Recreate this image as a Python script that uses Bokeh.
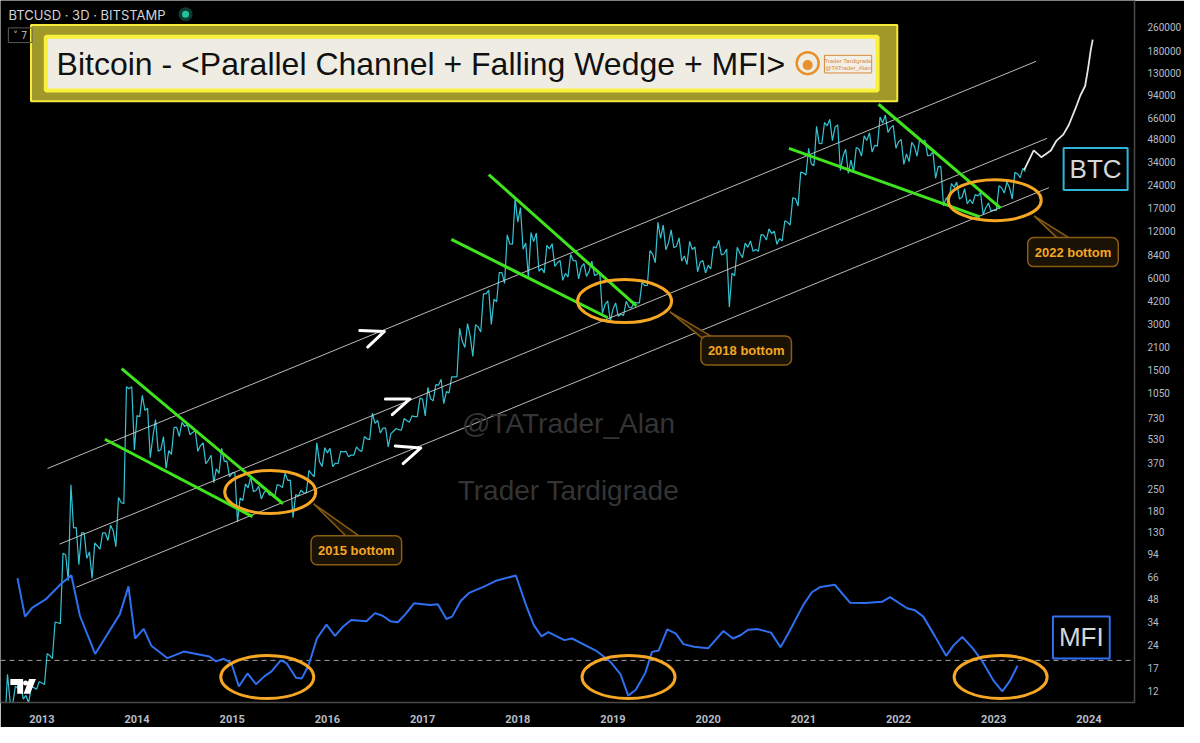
import math
from bokeh.plotting import figure
from bokeh.models import Range1d, FixedTicker, PrintfTickFormatter, Label, LinearScale
from bokeh.embed import file_html
from bokeh.resources import INLINE

# ---------------- data ----------------
FIRST_MONTH_YEAR = 2012 + 7 / 12.0   # August 2012, monthly 3D-candle extremes
PRICE_OPEN_FIRST = 9.0
PRICE_HIGH = [15.4, 12.9, 12.9, 12.8, 13.8,
              21.0, 33.8, 95.0, 266, 140, 129, 111, 129, 145, 220, 1163, 1163,
              1020, 840, 710, 550, 630, 680, 660, 600, 500, 415, 460, 380,
              320, 270, 300, 260, 246, 267, 317, 285, 245, 330, 500, 465,
              460, 440, 440, 470, 550, 780, 700, 625, 620, 720, 750, 980,
              1150, 1200, 1300, 1350, 2800, 3000, 2950, 4700, 4970, 6470, 11400, 19666,
              17200, 11800, 11700, 9750, 9990, 7760, 8500, 7760, 7410, 7680, 6540, 4230,
              4100, 4200, 4150, 5600, 9000, 13800, 13200, 12300, 10900, 10350, 9500, 7750,
              9580, 10500, 9200, 9450, 10080, 10400, 11450, 12470, 12050, 14100, 19900, 29300,
              41950, 58300, 61800, 64900, 59600, 41300, 42400, 50500, 52900, 67000, 69000, 59000,
              47900, 45800, 48200, 47400, 39800, 31900, 24700, 25200, 22800, 20900, 21500, 18400,
              23900, 25250, 29200, 31000]
PRICE_LOW = [7.1, 9.9, 10.6, 10.0, 12.3,
             13.2, 19.5, 33.0, 63, 80, 88, 65, 101, 115, 105, 200, 450,
             740, 400, 440, 340, 420, 550, 565, 440, 365, 275, 315, 300,
             152, 210, 240, 215, 228, 219, 255, 162, 225, 235, 300, 350,
             350, 365, 405, 415, 440, 525, 580, 470, 595, 605, 680, 742,
             750, 940, 900, 1060, 1350, 2100, 1830, 2650, 2970, 4160, 5500, 9900,
             9200, 6000, 6600, 6440, 7100, 5750, 6070, 5880, 6100, 6200, 3500, 3120,
             3350, 3400, 3800, 4100, 5330, 7500, 9100, 9400, 7700, 7300, 6550, 6430,
             6850, 8450, 3850, 6150, 8100, 8900, 8900, 10550, 9900, 10400, 13200, 17600,
             28100, 32300, 45000, 47000, 30000, 28800, 29300, 37300, 39600, 43300, 53300, 42000,
             32900, 34300, 37200, 37600, 26700, 17600, 18800, 19600, 18200, 18200, 15500, 16300,
             16500, 21400, 19600, 27000]
PRICE_CLOSE = [10.2, 12.4, 11.2, 12.6, 13.5,
               20.4, 33.4, 93, 139, 129, 97, 106, 129, 133, 204, 1128, 754,
               815, 550, 450, 445, 630, 640, 585, 480, 386, 338, 378, 318,
               218, 254, 244, 236, 230, 263, 284, 230, 236, 314, 377, 430,
               369, 437, 416, 448, 530, 670, 624, 574, 609, 700, 742, 963,
               970, 1190, 1080, 1348, 2300, 2480, 2860, 4700, 4340, 6470, 9950, 13800,
               10100, 10300, 6900, 9240, 7500, 6390, 7730, 7030, 6630, 6300, 4000, 3740,
               3460, 3850, 4100, 5320, 8550, 10800, 10100, 9600, 8300, 9150, 7550, 7200,
               9350, 8550, 6420, 8650, 9450, 9140, 11350, 11650, 10780, 13800, 19700, 28950,
               33100, 45200, 58800, 57700, 37300, 35040, 41500, 47100, 43800, 61300, 57000, 46200,
               38500, 43200, 45500, 37700, 31800, 19900, 23300, 20000, 19400, 20500, 17150, 16550,
               23100, 23150, 28500, 29500]

PROJ_YEARS = [2023.32, 2023.42, 2023.50, 2023.60, 2023.66, 2023.73, 2023.79,
              2023.86, 2023.91, 2023.96, 2023.99, 2024.02, 2024.04]
PROJ_PRICES = [30300, 40600, 36700, 40600, 47100, 51500, 59700,
               76600, 92700, 107000, 138000, 185000, 215000]

CHANNEL_YEARS = [[2013.06, 2023.445], [2013.186, 2023.56], [2013.362, 2023.58]]
CHANNEL_PRICES = [[340, 155000], [109, 48700], [57, 23200]]

WEDGE_YEARS = [[2013.838, 2015.534], [2013.662, 2015.213],
               [2017.695, 2019.246], [2017.302, 2018.946],
               [2021.790, 2023.072], [2020.849, 2022.855]]
WEDGE_PRICES = [[1528, 200], [528, 165],
                [28200, 3920], [10660, 3280],
                [81300, 17060], [41900, 14950]]

MFI_YEARS = [2012.744, 2012.823, 2012.90, 2013.04, 2013.20, 2013.31, 2013.40, 2013.56, 2013.82, 2013.91,
             2013.98, 2014.07, 2014.15, 2014.32, 2014.49, 2014.76, 2014.83, 2014.91, 2014.99, 2015.07,
             2015.16, 2015.25, 2015.34, 2015.41, 2015.51, 2015.57, 2015.67, 2015.73, 2015.80, 2015.89,
             2015.99, 2016.08, 2016.16, 2016.25, 2016.41, 2016.50, 2016.58, 2016.66, 2016.74, 2016.82,
             2016.91, 2017.08, 2017.16, 2017.25, 2017.31, 2017.40, 2017.49, 2017.65, 2017.77, 2017.98,
             2018.09, 2018.17, 2018.25, 2018.32, 2018.49, 2018.57, 2018.82, 2018.97, 2019.08, 2019.16,
             2019.24, 2019.34, 2019.41, 2019.48, 2019.57, 2019.66, 2019.74, 2019.85, 2020.00, 2020.16,
             2020.26, 2020.34, 2020.42, 2020.52, 2020.66, 2020.76, 2020.84, 2021.00, 2021.09, 2021.18,
             2021.33, 2021.49, 2021.65, 2021.83, 2021.91, 2022.09, 2022.17, 2022.26, 2022.38, 2022.50,
             2022.58, 2022.67, 2022.78, 2022.87, 2023.00, 2023.09, 2023.17, 2023.25]
MFI_VALUES = [86, 59.8, 66, 71.5, 82, 88, 60.4, 34.4, 61.5, 80.4,
              44.9, 51.5, 40, 31.5, 36, 32.7, 29.3, 31.1, 28.2, 12.2,
              21.1, 13.8, 19.3, 22.4, 30, 28.2, 18.2, 17.6, 26.4, 44.9,
              54.4, 46.7, 52.7, 57.5, 56.7, 62.2, 60.4, 56.7, 56, 61.5,
              68.9, 67.8, 68.2, 58.2, 59.8, 70.5, 76, 80.4, 84.2, 87.8,
              67, 53.8, 46.4, 49.3, 43.8, 44.9, 36.7, 29.3, 20.4, 6,
              10, 21.5, 35.8, 36.7, 51.1, 48.2, 41.1, 39.3, 38.2, 50,
              44.9, 47.1, 50.9, 51.3, 48.9, 38.9, 48.2, 67.8, 76.4, 80,
              81.5, 69.3, 69.1, 70, 73.1, 65.5, 64.2, 59.8, 46.7, 33.1,
              40.4, 46, 38.2, 30.4, 16, 8.9, 16, 26.4]
MFI_LEVEL = 30

YEAR_TICKS = list(range(2013, 2025))
PRICE_TICKS = [12, 17, 24, 34, 48, 66, 94, 130, 180, 250, 370, 530, 730, 1050, 1500, 2100,
               3000, 4200, 6000, 8400, 12000, 17000, 24000, 34000, 48000, 66000, 94000,
               130000, 180000, 260000]

BOTTOM_LABELS = ["2015 bottom", "2018 bottom", "2022 bottom"]
TITLE = "Bitcoin - <Parallel Channel + Falling Wedge + MFI>"

# ---------------- layout helpers (reference pixel -> data units) ----------------
PX_YEAR0, YEAR0, PX_PER_YEAR = 42.0, 2013.0, 96.7
PY_REF, PRICE_REF, PX_PER_DECADE = 27.0, 260000.0, 156.4
MFI_DASH_PY, MFI_PX_PER_UNIT = 674.0, 1.5


def yr(px):
    return YEAR0 + (px - PX_YEAR0) / PX_PER_YEAR


def pr(py):
    return PRICE_REF * 10 ** (-(py - PY_REF) / PX_PER_DECADE)


def mf(py):
    return MFI_LEVEL + (MFI_DASH_PY - py) / MFI_PX_PER_UNIT


FRAME_L, FRAME_R, FRAME_T, FRAME_B = 0, 1152, 0, 717

BG = "#000000"
CYAN = "#35c3d3"
GREEN = "#3fe41e"
ORANGE = "#f5a623"
BLUE = "#2f6ff0"
YELLOW = "#f4ec38"
OLIVE = "#a1982a"
CREAM = "#efede3"

p = figure(width=1184, height=727, output_backend="svg", toolbar_location=None,
           x_range=Range1d(yr(FRAME_L), yr(FRAME_R)),
           y_range=Range1d(pr(FRAME_B), pr(FRAME_T)),
           y_axis_type="log", y_axis_location="right",
           min_border_left=0, min_border_top=0, min_border_right=47, min_border_bottom=25)
p.extra_y_ranges = {"mfi": Range1d(mf(FRAME_B), mf(FRAME_T))}
p.extra_y_scales = {"mfi": LinearScale()}
p.background_fill_color = BG
p.border_fill_color = BG
p.outline_line_color = None
p.xgrid.visible = False
p.ygrid.visible = False

# axes
xa = p.xaxis[0]
xa.ticker = FixedTicker(ticks=YEAR_TICKS)
xa.formatter = PrintfTickFormatter(format="%d")
ya = p.yaxis[0]
ya.ticker = FixedTicker(ticks=PRICE_TICKS)
ya.formatter = PrintfTickFormatter(format="%d")
for ax in (xa, ya):
    ax.axis_line_color = "#4a4a4a"
    ax.axis_line_width = 1.5
    ax.major_tick_line_color = None
    ax.minor_tick_line_color = None
    ax.major_label_text_color = "#b8bcc4"
    ax.major_label_text_font = "Roboto"
xa.major_label_text_font_size = "11px"
xa.major_label_text_font_style = "bold"
xa.major_label_standoff = 6
ya.major_label_text_font_size = "10px"
ya.major_label_standoff = 7

# ---------------- price path built from monthly extremes ----------------
path_x, path_y = [], []
prev = PRICE_OPEN_FIRST
for i, (h, l, c) in enumerate(zip(PRICE_HIGH, PRICE_LOW, PRICE_CLOSE)):
    t0 = FIRST_MONTH_YEAR + i / 12.0
    a, b = (l, h) if c >= prev else (h, l)
    path_x += [t0 + 1 / 36.0, t0 + 2 / 36.0, t0 + 3 / 36.0]
    path_y += [a, b, c]
    prev = c

p.line(path_x, path_y, line_color=CYAN, line_width=1.2)
p.line(PROJ_YEARS, PROJ_PRICES, line_color="#e6e6e6", line_width=1.8)

# channel + wedges
p.multi_line(CHANNEL_YEARS, CHANNEL_PRICES, line_color="#cfcfcf", line_width=1, line_alpha=0.9)
p.multi_line(WEDGE_YEARS, WEDGE_PRICES, line_color=GREEN, line_width=3)

# MFI
p.line([yr(FRAME_L), yr(FRAME_R)], [MFI_LEVEL, MFI_LEVEL], y_range_name="mfi",
       line_color="#a0a0a0", line_width=1, line_dash="5 4")
p.line(MFI_YEARS, MFI_VALUES, y_range_name="mfi", line_color=BLUE, line_width=2)

# ellipses (price and MFI)
p.ellipse(x=[yr(274), yr(634), yr(1010)], y=[pr(502), pr(307), pr(204)],
          width=[91, 94, 93], height=[43, 43, 41], width_units="screen", height_units="screen",
          fill_color=None, line_color=ORANGE, line_width=3)
p.ellipse(x=[yr(271), yr(638), yr(1016)], y=[mf(691)] * 3, y_range_name="mfi",
          width=93, height=43, width_units="screen", height_units="screen",
          fill_color=None, line_color=ORANGE, line_width=3)

# white arrows
arrows_px = [[(365, 337), (390, 338), (373, 354)],
             [(391, 407), (416, 407), (398, 423)],
             [(401, 455), (427, 457), (409, 473)]]
p.multi_line([[yr(a) for a, _ in arr] for arr in arrows_px],
             [[pr(b) for _, b in arr] for arr in arrows_px],
             line_color="white", line_width=3, line_cap="round", line_join="round")

# callouts
pointers = [[(318, 514), (352, 548), (366, 548)],
            [(680, 318), (712, 344), (724, 344)],
            [(1050, 220), (1075, 244), (1088, 244)]]
p.patches([[yr(a) for a, _ in t] for t in pointers], [[pr(b) for _, b in t] for t in pointers],
          fill_color="#1a1204", line_color="#8a5c14", line_width=1.5)
for text, (cx, cy) in zip(BOTTOM_LABELS, [(361.5, 561.5), (757.5, 357.5), (1089.5, 257)]):
    p.add_layout(Label(x=yr(cx), y=pr(cy), text=text, text_align="center", text_baseline="middle",
                       text_font="Liberation Sans", text_font_size="13px", text_font_style="bold",
                       text_color=ORANGE, background_fill_color="#1a1204",
                       border_line_color="#8a5c14", border_line_width=1.5,
                       padding=7, border_radius=6))

# BTC / MFI tags
p.add_layout(Label(x=yr(1112.5), y=pr(172), text="BTC", text_align="center", text_baseline="middle",
                   text_font="Liberation Sans", text_font_size="26px", text_color="#d6d6d6",
                   background_fill_color=BG, border_line_color="#2fb6d6", border_line_width=2,
                   padding=6))
p.add_layout(Label(x=yr(1098), y=pr(650.5), text="MFI", text_align="center", text_baseline="middle",
                   text_font="Liberation Sans", text_font_size="26px", text_color="#d6d6d6",
                   background_fill_color=BG, border_line_color=BLUE, border_line_width=2,
                   padding=6))

# watermarks
p.add_layout(Label(x=yr(577), y=pr(432), text="@TATrader_Alan", text_align="center",
                   text_baseline="middle", text_font="Liberation Sans", text_font_size="28px",
                   text_color="#343434"))
p.add_layout(Label(x=yr(577), y=pr(500), text="Trader Tardigrade", text_align="center",
                   text_baseline="middle", text_font="Liberation Sans", text_font_size="28px",
                   text_color="#343434"))

# title box
p.quad(left=[yr(31)], right=[yr(911)], bottom=[pr(103)], top=[pr(25)],
       fill_color=OLIVE, line_color=YELLOW, line_width=2)
p.quad(left=[yr(46)], right=[yr(891)], bottom=[pr(92)], top=[pr(37)],
       fill_color=CREAM, line_color="#f8f03a", line_width=4)
p.add_layout(Label(x=yr(57), y=pr(65), text=TITLE, text_align="left", text_baseline="middle",
                   text_font="Liberation Sans", text_font_size="32px", text_color="#111111"))
# small logo + badge
p.scatter(x=[yr(820)], y=[pr(64)], size=22, marker="circle", fill_color=None,
          line_color="#e8902a", line_width=2.5)
p.scatter(x=[yr(820)], y=[pr(66)], size=10, marker="circle", fill_color="#e8902a",
          line_color=None)
p.quad(left=[yr(837)], right=[yr(885)], bottom=[pr(74)], top=[pr(56)],
       fill_color="#f3efe6", line_color="#d98a3a", line_width=1)
for txt, yy in (("Trader Tardigrade", 61.5), ("@TATrader_Alan", 68.5)):
    p.add_layout(Label(x=yr(861), y=pr(yy), text=txt, text_align="center", text_baseline="middle",
                       text_font="Liberation Sans", text_font_size="6px", text_color="#d98a3a"))

# header (symbol line)
p.add_layout(Label(x=yr(8), y=pr(15), text="BTCUSD · 3D · BITSTAMP", text_baseline="middle",
                   text_font="Inter", text_font_size="13px", text_color="#d1d4dc"))
p.scatter(x=[yr(188)], y=[pr(14)], size=14, marker="circle", fill_color="#0d3a32", line_color=None)
p.scatter(x=[yr(188)], y=[pr(14)], size=7, marker="circle", fill_color="#22c39b", line_color=None)
p.quad(left=[yr(8)], right=[yr(32)], bottom=[pr(43)], top=[pr(28)],
       fill_color=None, line_color="#5a5a5a", line_width=1)
p.add_layout(Label(x=yr(20), y=pr(35.5), text="˅ 7", text_align="center", text_baseline="middle",
                   text_font="DejaVu Sans", text_font_size="10px", text_color="#b0b0b0"))

# TradingView-like logo bottom-left
logo_px = [[(10, 693), (23, 693), (23, 708), (17, 708), (17, 699), (10, 699)],
           [(29, 693), (36, 693), (30, 708), (23.5, 708)]]
p.patches([[yr(a) for a, _ in s] for s in logo_px], [[pr(b) for _, b in s] for s in logo_px],
          fill_color="white", line_color=None)
p.scatter(x=[yr(25.5)], y=[pr(697)], size=5, marker="circle", fill_color="white", line_color=None)

open("out.html", "w").write(file_html(p, INLINE))
